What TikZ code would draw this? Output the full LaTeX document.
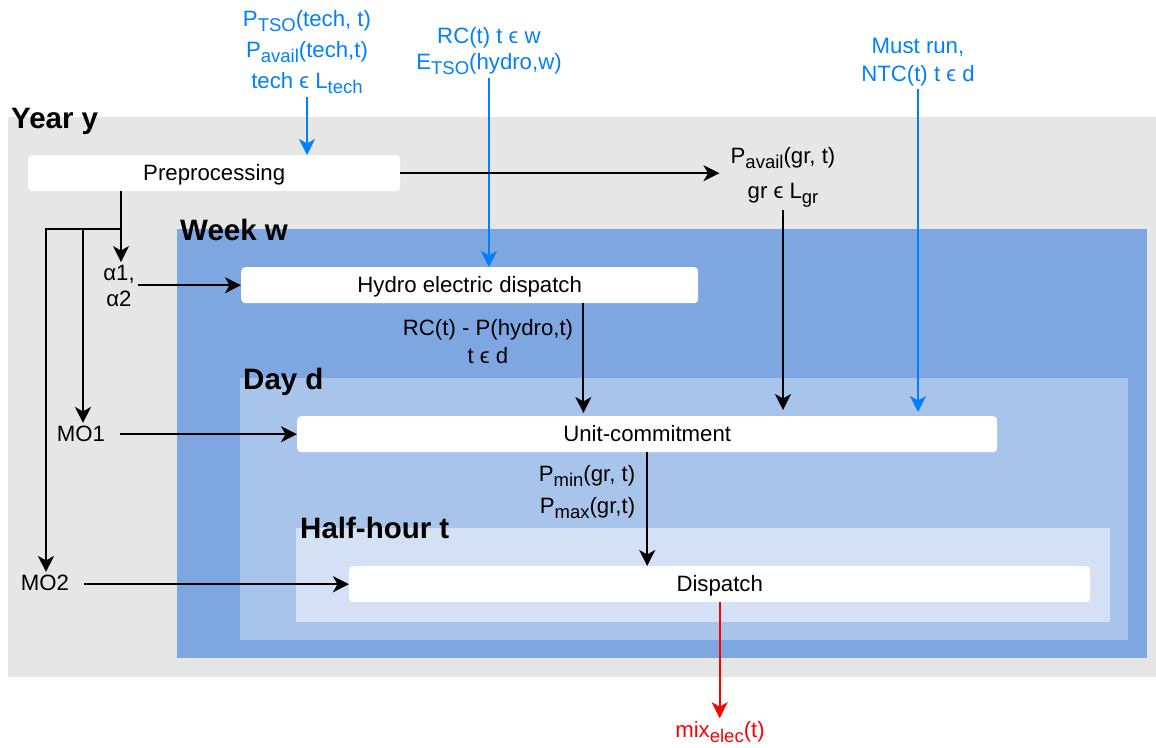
\documentclass[tikz,border=0pt]{standalone}
\usepackage{fontspec}
\setmainfont{Liberation Sans}
\usetikzlibrary{arrows.meta}
\definecolor{yeargray}{HTML}{E6E6E6}
\definecolor{weekblue}{HTML}{7EA6E0}
\definecolor{dayblue}{HTML}{A9C4EB}
\definecolor{hourblue}{HTML}{D4E1F5}
\definecolor{inblue}{HTML}{007FFF}
\definecolor{outred}{HTML}{FF0000}
\newcommand\sbs[1]{\raisebox{-5pt}{\fontsize{18.5}{18.5}\selectfont #1}}
\begin{document}
\begin{tikzpicture}[x=1pt,y=-1pt,
  region/.style={draw=none, anchor=north west, inner sep=0pt, outer sep=0pt},
  regionlbl/.style={anchor=base west, inner sep=0pt, font=\bfseries\fontsize{29.5}{32}\selectfont},
  proc/.style={fill=white, draw=none, rounded corners=4pt, anchor=north west, inner sep=0pt,
    minimum height=36pt, text height=15.5pt, text depth=1pt, font=\fontsize{22.2}{26}\selectfont},
  lbl/.style={align=center, inner sep=3pt, font=\fontsize{22.2}{26}\selectfont},
  tip/.style={-{Stealth[length=16pt,width=16pt,inset=4.5pt]}},
  flow/.style={draw=black, line width=2pt, tip},
  inflow/.style={draw=inblue, line width=2pt, tip},
  outflow/.style={draw=outred, line width=2pt, tip}
]
\useasboundingbox (0,0) rectangle (1156,747);

% nested regions
\node[region, fill=yeargray, minimum width=1148pt, minimum height=560pt] (year) at (8,117) {};
\node[region, fill=weekblue, minimum width=970pt, minimum height=429pt] (week) at (177,229) {};
\node[region, fill=dayblue, minimum width=888pt, minimum height=262pt] (day) at (240,378) {};
\node[region, fill=hourblue, minimum width=814pt, minimum height=94pt] (hour) at (296,528) {};

\node[regionlbl] (yearlbl) at ([xshift=3pt,yshift=-11pt]year.north west) {Year y};
\node[regionlbl] (weeklbl) at ([xshift=3pt,yshift=-11pt]week.north west) {Week w};
\node[regionlbl] (daylbl) at ([xshift=3pt,yshift=-11pt]day.north west) {Day d};
\node[regionlbl] (hourlbl) at ([xshift=4pt,yshift=-10pt]hour.north west) {Half-hour t};

% process boxes
\node[proc, minimum width=372pt] (prep) at (28,155) {Preprocessing};
\node[proc, minimum width=457pt] (hydro) at (241,267) {Hydro electric dispatch};
\node[proc, minimum width=700pt] (uc) at (297,416) {Unit-commitment};
\node[proc, minimum width=741pt] (disp) at (349,566) {Dispatch};

% input labels (blue)
\node[lbl, text=inblue, font=\fontsize{22.2}{31}\selectfont] (tso) at (307,52)
  {P\sbs{TSO}(tech, t)\\P\sbs{avail}(tech,t)\\tech ϵ L\sbs{tech}};
\node[lbl, text=inblue, font=\fontsize{22.2}{26}\selectfont] (rc) at (489,51)
  {RC(t) t ϵ w\\E\sbs{TSO}(hydro,w)};
\node[lbl, text=inblue, font=\fontsize{22.2}{28}\selectfont] (must) at (918,62)
  {Must run,\\NTC(t) t ϵ d};

% black labels
\node[lbl, font=\fontsize{22.2}{35}\selectfont] (pavgr) at (783,177)
  {P\sbs{avail}(gr, t)\\gr ϵ L\sbs{gr}};
\node[lbl, font=\fontsize{22.2}{26}\selectfont] (alpha) at (119,286) {α1,\\α2};
\node[lbl] (mo1) at (81,434) {MO1};
\node[lbl] (mo2) at (45,583) {MO2};
\node[lbl, font=\fontsize{22.2}{28}\selectfont] (rcp) at (488,342)
  {RC(t) - P(hydro,t)\\t ϵ d};
\node[lbl, align=right, font=\fontsize{22.2}{32}\selectfont] (pmm) at (587,492)
  {P\sbs{min}(gr, t)\\P\sbs{max}(gr,t)};
\node[lbl, text=outred] (mix) at (720,732) {mix\sbs{elec}(t)};

% split points
\coordinate (split) at (121,229);
\coordinate (br1) at (83,229);
\coordinate (br2) at (46,229);

% connectors
\draw[inflow] (tso.south) -- (tso.south |- prep.north);
\draw[inflow] (rc.south) -- (rc.south |- hydro.north);
\draw[inflow, shorten >=4pt] (must.south) -- (must.south |- uc.north);

\draw[flow, shorten >=8pt] (prep.east) -- (prep.east -| pavgr.west);
\draw[flow, shorten >=6pt] (pavgr.south) -- (pavgr.south |- uc.north);

\draw[flow] (split |- prep.south) -- (split |- alpha.north);
\draw[flow] (split) -- (br2) -- (br2 |- mo2.north);
\draw[flow] (br1) -- (br1 |- mo1.north);

\draw[flow] (alpha.east |- hydro.west) -- (hydro.west);
\draw[flow, shorten <=12pt] (mo1.east |- uc.west) -- (uc.west);
\draw[flow, shorten <=12pt] (mo2.east |- disp.west) -- (disp.west);

\draw[flow, shorten >=3pt] ([xshift=-115pt]hydro.south east) -- ([xshift=-115pt]hydro.south east |- uc.north);
\draw[flow] (uc.south) -- (uc.south |- disp.north);
\draw[outflow] (disp.south) -- (disp.south |- mix.north);
\end{tikzpicture}
\end{document}
